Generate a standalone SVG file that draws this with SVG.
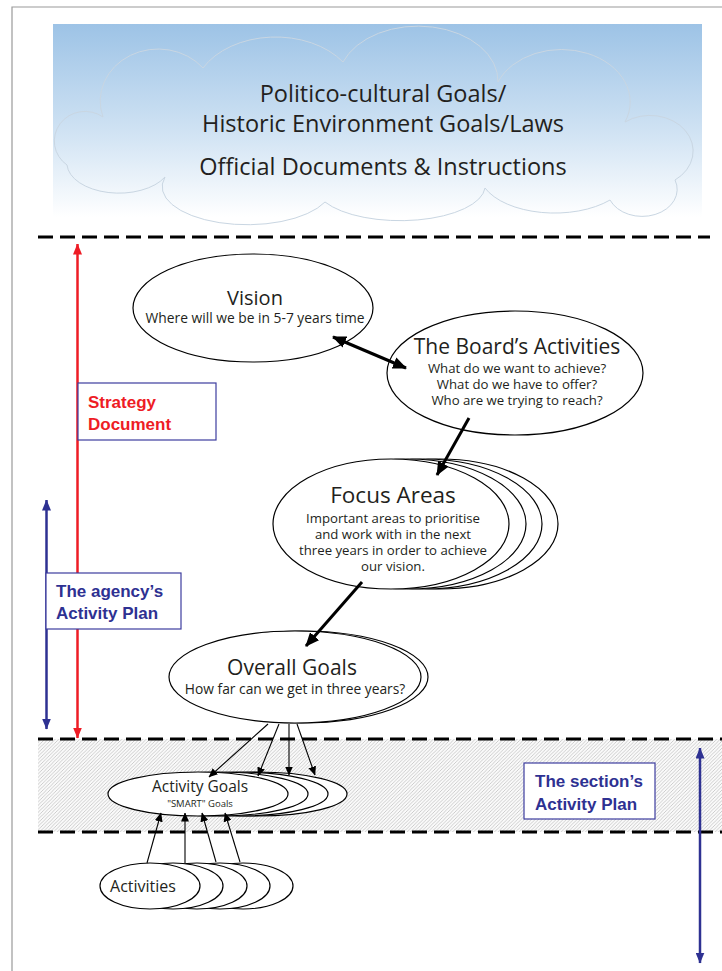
<svg xmlns="http://www.w3.org/2000/svg" width="722" height="971" viewBox="0 0 722 971">
<style>
.dash{stroke:#000;stroke-width:3;stroke-dasharray:15 7;fill:none}
.ell{fill:#fff;stroke:#000;stroke-width:1.2}
.t{font-family:"Open Sans","Noto Sans",sans-serif;fill:#231f20;text-anchor:middle}
.head{font-size:20px}
.sub{font-size:13.2px}
.lbl{font-family:"Liberation Sans",Arial,sans-serif;font-weight:bold;font-size:17px}
.box{fill:#fff;stroke:#3d3d9e;stroke-width:1.2}
.thick{stroke:#000;stroke-width:3;fill:none}
.thin{stroke:#000;stroke-width:1.1;fill:none}
</style>
<defs>
<linearGradient id="sky" x1="0" y1="0" x2="0" y2="1">
<stop offset="0" stop-color="#9dc3e6"/>
<stop offset="0.55" stop-color="#cfe2f3"/>
<stop offset="1" stop-color="#ffffff"/>
</linearGradient>
<pattern id="hatch" patternUnits="userSpaceOnUse" width="3.5" height="3.5">
<rect width="3.5" height="3.5" fill="#fafafa"/>
<path d="M-1,1 L1,-1 M0,3.5 L3.5,0 M2.5,4.5 L4.5,2.5" stroke="#c2c2c2" stroke-width="0.8"/>
</pattern>
<marker id="hBig" markerUnits="userSpaceOnUse" markerWidth="14" markerHeight="12" refX="13" refY="6" orient="auto-start-reverse" viewBox="0 0 14 12">
<path d="M0,0 L14,6 L0,12 z" fill="#000"/>
</marker>
<marker id="hSm" markerUnits="userSpaceOnUse" markerWidth="9" markerHeight="8" refX="8.5" refY="4" orient="auto" viewBox="0 0 9 8">
<path d="M0,0 L9,4 L0,8 z" fill="#000"/>
</marker>
<marker id="hRed" markerUnits="userSpaceOnUse" markerWidth="11" markerHeight="9" refX="10.5" refY="4.5" orient="auto-start-reverse" viewBox="0 0 11 9">
<path d="M0,0 L11,4.5 L0,9 z" fill="#ee1c25"/>
</marker>
<marker id="hBlue" markerUnits="userSpaceOnUse" markerWidth="11" markerHeight="9" refX="10.5" refY="4.5" orient="auto-start-reverse" viewBox="0 0 11 9">
<path d="M0,0 L11,4.5 L0,9 z" fill="#2e3192"/>
</marker>
</defs>

<rect width="722" height="971" fill="#fff"/>
<path d="M12,971 L12,7 L722,7" fill="none" stroke="#9a9a9a" stroke-width="1.2"/>

<g id="sky-cloud">
<rect x="53" y="24" width="649" height="193" fill="url(#sky)"/>
<path d="M67,165 A28,27 0 0 1 103,117 A58,52 0 0 1 203,68 A82,58 0 0 1 343,62 A80,55 0 0 1 498,82 A68,52 0 0 1 625,122 A40,33 0 0 1 675,180 A35,27 0 0 1 610,200 A75,40 0 0 1 485,188 A85,35 0 0 1 325,202 A85,38 0 0 1 165,177 A52,30 0 0 1 67,165 Z" fill="none" stroke="#c9d6e2" stroke-width="1"/>
<text class="t" x="383" y="102" font-size="23.5">Politico-cultural Goals/</text>
<text class="t" x="383" y="132" font-size="23.5">Historic Environment Goals/Laws</text>
<text class="t" x="383" y="175" font-size="23.5">Official Documents &amp; Instructions</text>
</g>

<g id="bands">
<rect x="38" y="739" width="684" height="93" fill="url(#hatch)"/>
<line class="dash" x1="38" y1="237" x2="710" y2="237"/>
<line class="dash" x1="38" y1="739" x2="722" y2="739"/>
<line class="dash" x1="38" y1="832" x2="722" y2="832"/>
</g>

<g id="scope-arrows">
<line x1="77.5" y1="244" x2="77.5" y2="738" stroke="#ee1c25" stroke-width="2.5" marker-start="url(#hRed)" marker-end="url(#hRed)"/>
<line x1="46.5" y1="500" x2="46.5" y2="729" stroke="#2e3192" stroke-width="2.5" marker-start="url(#hBlue)" marker-end="url(#hBlue)"/>
<line x1="700" y1="748" x2="700" y2="963" stroke="#2e3192" stroke-width="2.5" marker-start="url(#hBlue)" marker-end="url(#hBlue)"/>
</g>

<g id="strategy-document">
<rect class="box" x="78" y="383" width="138" height="57"/>
<text class="lbl" x="88" y="408" fill="#ee1c25" font-size="19">Strategy</text>
<text class="lbl" x="88" y="430" fill="#ee1c25" font-size="19">Document</text>
</g>

<g id="agency-plan">
<rect class="box" x="46" y="573" width="135" height="56"/>
<text class="lbl" x="56" y="597" fill="#2e3192">The agency’s</text>
<text class="lbl" x="56" y="619" fill="#2e3192">Activity Plan</text>
</g>

<g id="section-plan">
<rect class="box" x="524" y="763" width="131" height="56"/>
<text class="lbl" x="535" y="787" fill="#2e3192">The section’s</text>
<text class="lbl" x="535" y="810" fill="#2e3192">Activity Plan</text>
</g>

<g id="vision">
<ellipse class="ell" cx="253" cy="308" rx="120" ry="54"/>
<text class="t head" x="255" y="305">Vision</text>
<text class="t" x="255" y="323" font-size="13.8">Where will we be in 5-7 years time</text>
</g>

<g id="boards-activities">
<ellipse class="ell" cx="515" cy="373" rx="128" ry="62"/>
<text class="t" x="517" y="354" font-size="21">The Board’s Activities</text>
<text class="t sub" x="517" y="373">What do we want to achieve?</text>
<text class="t sub" x="517" y="389">What do we have to offer?</text>
<text class="t sub" x="517" y="405">Who are we trying to reach?</text>
</g>

<g id="focus-areas">
<ellipse class="ell" cx="440" cy="524" rx="118" ry="65"/>
<ellipse class="ell" cx="424" cy="524" rx="118" ry="65"/>
<ellipse class="ell" cx="408" cy="524" rx="118" ry="65"/>
<ellipse class="ell" cx="391" cy="524" rx="118" ry="65"/>
<text class="t" x="393" y="503" font-size="22.5">Focus Areas</text>
<text class="t sub" x="393" y="523">Important areas to prioritise</text>
<text class="t sub" x="393" y="539">and work with in the next</text>
<text class="t sub" x="393" y="555">three years in order to achieve</text>
<text class="t sub" x="393" y="571">our vision.</text>
</g>

<g id="overall-goals">
<ellipse class="ell" cx="302" cy="677" rx="126" ry="46"/>
<ellipse class="ell" cx="295" cy="677" rx="126" ry="46"/>
<text class="t" x="292" y="675" font-size="21">Overall Goals</text>
<text class="t" x="295" y="694" font-size="13.8">How far can we get in three years?</text>
</g>

<g id="activity-goals">
<ellipse class="ell" cx="257" cy="794" rx="90" ry="22"/>
<ellipse class="ell" cx="238" cy="794" rx="90" ry="22"/>
<ellipse class="ell" cx="218" cy="794" rx="90" ry="22"/>
<ellipse class="ell" cx="198" cy="794" rx="90" ry="22"/>
<text class="t" x="200" y="792" font-size="15.5">Activity Goals</text>
<text class="t" x="200" y="807" font-size="9.5">"SMART" Goals</text>
</g>

<g id="activities">
<ellipse class="ell" cx="243" cy="886" rx="50" ry="23"/>
<ellipse class="ell" cx="220" cy="886" rx="50" ry="23"/>
<ellipse class="ell" cx="197" cy="886" rx="50" ry="23"/>
<ellipse class="ell" cx="173" cy="886" rx="50" ry="23"/>
<ellipse class="ell" cx="150" cy="886" rx="50" ry="23"/>
<text class="t" x="143" y="892" font-size="16">Activities</text>
</g>

<g id="connectors">
<line class="thick" x1="333" y1="337" x2="406" y2="368" marker-start="url(#hBig)" marker-end="url(#hBig)"/>
<line class="thick" x1="469" y1="418" x2="437" y2="475" marker-end="url(#hBig)"/>
<line class="thick" x1="362" y1="582" x2="306" y2="646" marker-end="url(#hBig)"/>
<line class="thin" x1="268" y1="724" x2="209" y2="777" marker-end="url(#hSm)"/>
<line class="thin" x1="279" y1="724" x2="258" y2="776" marker-end="url(#hSm)"/>
<line class="thin" x1="289" y1="724" x2="289" y2="775" marker-end="url(#hSm)"/>
<line class="thin" x1="297" y1="724" x2="315" y2="775" marker-end="url(#hSm)"/>
<line class="thin" x1="147" y1="863" x2="161" y2="813" marker-end="url(#hSm)"/>
<line class="thin" x1="185" y1="863" x2="185" y2="813" marker-end="url(#hSm)"/>
<line class="thin" x1="216" y1="862" x2="202" y2="813" marker-end="url(#hSm)"/>
<line class="thin" x1="240" y1="862" x2="225" y2="813" marker-end="url(#hSm)"/>
</g>
</svg>
